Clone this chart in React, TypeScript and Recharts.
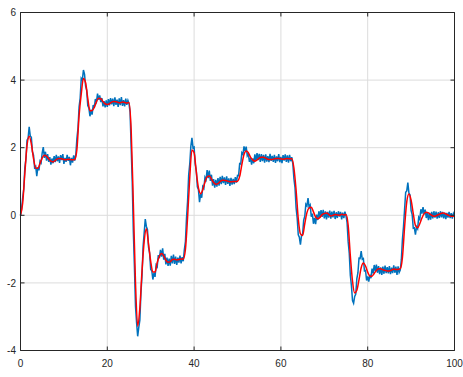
import { CartesianGrid, Line, LineChart, XAxis, YAxis } from "recharts"

const xTicks = [0, 20, 40, 60, 80, 100]
const yTicks = [-4, -2, 0, 2, 4, 6]

// noisy measurement, one sample every 0.25 (one line per unit of x)
const measuredStep = 0.25
const measured = [
  -0.02, 0.2, 0.52, 0.78,
  1.41, 1.66, 2.22, 2.28,
  2.62, 2.35, 2.31, 1.88,
  1.78, 1.41, 1.45, 1.16,
  1.42, 1.33, 1.6, 1.55,
  1.85, 2.02, 1.7, 1.88,
  1.62, 1.81, 1.58, 1.72,
  1.5, 1.68, 1.54, 1.75,
  1.57, 1.79, 1.6, 1.74,
  1.55, 1.78, 1.63, 1.81,
  1.52, 1.7, 1.58, 1.79,
  1.61, 1.73, 1.48, 1.7,
  1.56, 1.77, 1.62, 1.8,
  2.28, 2.58, 3.21, 3.47,
  4.05, 4.0, 4.3, 4.18,
  3.82, 3.7, 3.25, 3.18,
  2.93, 3.08, 2.98, 3.26,
  3.18, 3.44, 3.36, 3.6,
  3.42, 3.55, 3.35, 3.47,
  3.22, 3.38, 3.19, 3.4,
  3.21, 3.44, 3.25, 3.47,
  3.28, 3.45, 3.23, 3.49,
  3.27, 3.42, 3.21, 3.46,
  3.26, 3.5, 3.24, 3.41,
  3.22, 3.45, 3.27, 3.4,
  3.3, 3.05, 2.02, 0.98,
  -0.48, -1.52, -2.7, -3.18,
  -3.58, -3.32, -3.1, -2.3,
  -1.78, -0.92, -0.52, -0.11,
  -0.33, -0.42, -0.94, -1.12,
  -1.6, -1.64, -1.9, -1.7,
  -1.82, -1.47, -1.52, -1.18,
  -1.27, -1.02, -1.22, -0.98,
  -1.31, -1.14, -1.45, -1.25,
  -1.5, -1.28, -1.49, -1.2,
  -1.42, -1.16, -1.44, -1.22,
  -1.47, -1.25, -1.4, -1.19,
  -1.42, -1.24, -1.36, -1.02,
  -0.78, -0.08, 0.42, 1.19,
  1.52, 2.04, 2.29, 2.0,
  2.02, 1.52, 1.33, 0.84,
  0.76, 0.39, 0.63, 0.52,
  0.85, 0.8, 1.12, 1.05,
  1.34, 1.1, 1.32, 1.02,
  1.2, 0.88, 1.07, 0.82,
  1.05, 0.85, 1.1, 0.88,
  1.14, 0.92, 1.17, 0.95,
  1.12, 0.9, 1.15, 0.93,
  1.09, 0.87, 1.11, 0.91,
  1.08, 0.92, 1.13, 0.97,
  1.18, 1.17, 1.53, 1.52,
  1.85, 1.8, 2.04, 1.9,
  2.03, 1.76, 1.82, 1.58,
  1.7, 1.5, 1.68, 1.54,
  1.8, 1.62, 1.84, 1.63,
  1.82, 1.58, 1.81, 1.6,
  1.79, 1.56, 1.8, 1.59,
  1.75, 1.57, 1.82, 1.61,
  1.76, 1.58, 1.79, 1.55,
  1.74, 1.6, 1.81, 1.57,
  1.73, 1.54, 1.78, 1.62,
  1.8, 1.58, 1.77, 1.56,
  1.79, 1.6, 1.72, 1.52,
  1.08, 0.82, 0.22, -0.08,
  -0.58, -0.65, -0.87, -0.6,
  -0.56, -0.14, -0.03, 0.33,
  0.28, 0.51, 0.24, 0.3,
  -0.04, 0.05, -0.25, -0.08,
  -0.26, 0.02, -0.14, 0.12,
  -0.06, 0.15, -0.05, 0.16,
  -0.09, 0.12, -0.12, 0.1,
  -0.07, 0.14, -0.1, 0.11,
  -0.06, 0.13, -0.11, 0.09,
  -0.08, 0.12, -0.04, 0.1,
  -0.12, 0.08, -0.08, 0.11,
  -0.02, -0.22, -0.78, -1.12,
  -1.78, -2.08, -2.52, -2.6,
  -2.4, -2.33, -1.87, -1.7,
  -1.27, -1.28, -1.06, -1.3,
  -1.28, -1.64, -1.63, -1.93,
  -1.81, -1.96, -1.76, -1.86,
  -1.58, -1.72, -1.47, -1.65,
  -1.46, -1.7, -1.5, -1.74,
  -1.54, -1.76, -1.52, -1.73,
  -1.49, -1.71, -1.53, -1.72,
  -1.5, -1.74, -1.55, -1.71,
  -1.48, -1.7, -1.52, -1.76,
  -1.51, -1.69, -1.62, -1.32,
  -0.72, -0.33, 0.18, 0.68,
  0.72, 0.97, 0.66, 0.6,
  0.14, 0.02, -0.38, -0.37,
  -0.57, -0.34, -0.4, -0.06,
  -0.12, 0.18, 0.05, 0.24,
  0.03, 0.17, -0.08, 0.08,
  -0.14, 0.07, -0.13, 0.1,
  -0.09, 0.12, -0.07, 0.11,
  -0.1, 0.09, -0.08, 0.12,
  -0.06, 0.1, -0.09, 0.08,
  -0.11, 0.07, -0.07, 0.1,
  -0.08, 0.06, -0.1, 0.05,
  -0.03,
]

// smoothed estimate, one sample every 0.5
const filteredStep = 0.5
const filtered = [
  0.0, 0.36, 1.24, 2.06, 2.34, 2.11, 1.68, 1.4, 1.39, 1.53,
  1.7, 1.78, 1.75, 1.67, 1.6, 1.58, 1.62, 1.67, 1.68, 1.67,
  1.65, 1.64, 1.66, 1.65, 1.64, 1.65, 1.95, 2.95, 3.59, 4.05,
  3.92, 3.46, 3.09, 3.1, 3.19, 3.36, 3.46, 3.45, 3.37, 3.3,
  3.28, 3.3, 3.35, 3.37, 3.36, 3.34, 3.33, 3.35, 3.34, 3.32,
  3.34, 2.52, 0.35, -2.01, -3.28, -2.74, -1.64, -0.77, -0.4, -0.85,
  -1.36, -1.68, -1.68, -1.4, -1.21, -1.13, -1.2, -1.33, -1.39, -1.37,
  -1.31, -1.3, -1.32, -1.31, -1.29, -1.3, -1.01, -0.06, 1.12, 1.93,
  1.85, 1.29, 0.81, 0.64, 0.76, 0.98, 1.14, 1.16, 1.07, 0.97,
  0.92, 0.94, 1.0, 1.04, 1.03, 1.02, 1.0, 0.99, 1.0, 1.0,
  1.01, 1.15, 1.5, 1.8, 1.9, 1.85, 1.72, 1.64, 1.6, 1.64,
  1.69, 1.72, 1.72, 1.69, 1.66, 1.65, 1.65, 1.67, 1.68, 1.68,
  1.67, 1.66, 1.67, 1.68, 1.67, 1.67, 1.4, 0.75, -0.1, -0.55,
  -0.6, -0.25, 0.08, 0.22, 0.24, 0.1, -0.05, -0.1, -0.06, 0.02,
  0.05, 0.07, 0.03, -0.02, 0.0, 0.02, 0.01, 0.0, 0.03, 0.01,
  0.02, -0.3, -1.2, -1.95, -2.3, -2.22, -1.9, -1.55, -1.41, -1.5,
  -1.68, -1.8, -1.8, -1.72, -1.63, -1.58, -1.58, -1.61, -1.63, -1.65,
  -1.65, -1.62, -1.59, -1.6, -1.6, -1.58, -1.25, -0.35, 0.4, 0.63,
  0.45, 0.05, -0.3, -0.37, -0.25, -0.08, 0.05, 0.09, 0.07, 0.02,
  -0.02, -0.03, 0.0, 0.03, 0.06, 0.07, 0.04, 0.01, -0.02, -0.03,
  -0.02,
]

const measuredRows = measured.map((v, i) => ({ t: i * measuredStep, v }))
const filteredRows = filtered.map((v, i) => ({ t: i * filteredStep, v }))

const axisColor = "#262626"
const labelFont = "'Liberation Sans', Arial, sans-serif"

function BottomTick({ x, y, payload }: any) {
  return (
    <g>
      <line x1={x} x2={x} y1={y} y2={y - 4} stroke={axisColor} />
      <text
        x={x}
        y={y + 13}
        dy="0.36em"
        textAnchor="middle"
        fontSize={10}
        fontFamily={labelFont}
        fill={axisColor}
      >
        {payload.value}
      </text>
    </g>
  )
}

function LeftTick({ x, y, payload }: any) {
  return (
    <g>
      <line x1={x} x2={x + 4} y1={y} y2={y} stroke={axisColor} />
      <text
        x={x - 4.5}
        y={y}
        dy="0.36em"
        textAnchor="end"
        fontSize={10}
        fontFamily={labelFont}
        fill={axisColor}
      >
        {payload.value}
      </text>
    </g>
  )
}

function TopTick({ x, y }: any) {
  return <line x1={x} x2={x} y1={y} y2={y + 4} stroke={axisColor} />
}

function RightTick({ x, y }: any) {
  return <line x1={x} x2={x - 4} y1={y} y2={y} stroke={axisColor} />
}

export default function App() {
  return (
    <div style={{ position: "absolute", left: 0, top: 0, background: "#fff" }}>
      <LineChart
        width={463}
        height={377}
        margin={{ top: 11.5, right: 7.5, bottom: 0, left: 0 }}
      >
        <CartesianGrid stroke="#dcdcdc" strokeWidth={1} />
        <XAxis
          dataKey="t"
          type="number"
          domain={[0, 100]}
          ticks={xTicks}
          interval={0}
          height={26.5}
          tickSize={0}
          tickMargin={0}
          tickLine={false}
          stroke={axisColor}
          tick={<BottomTick />}
        />
        <XAxis
          xAxisId="top"
          dataKey="t"
          orientation="top"
          type="number"
          domain={[0, 100]}
          ticks={xTicks}
          interval={0}
          height={1}
          tickSize={0}
          tickMargin={0}
          tickLine={false}
          stroke={axisColor}
          tick={<TopTick />}
        />
        <YAxis
          type="number"
          domain={[-4, 6]}
          ticks={yTicks}
          interval={0}
          width={20.5}
          tickSize={0}
          tickMargin={0}
          tickLine={false}
          stroke={axisColor}
          tick={<LeftTick />}
        />
        <YAxis
          yAxisId="right"
          orientation="right"
          type="number"
          domain={[-4, 6]}
          ticks={yTicks}
          interval={0}
          width={1}
          tickSize={0}
          tickMargin={0}
          tickLine={false}
          stroke={axisColor}
          tick={<RightTick />}
        />
        <Line
          data={measuredRows}
          dataKey="v"
          type="linear"
          stroke="#0072bd"
          strokeWidth={1.5}
          dot={false}
          activeDot={false}
          isAnimationActive={false}
        />
        <Line
          data={filteredRows}
          dataKey="v"
          type="monotone"
          stroke="#ff0000"
          strokeWidth={1.5}
          dot={false}
          activeDot={false}
          isAnimationActive={false}
        />
        {/* invisible twins so the top and right axes get registered with a series */}
        <Line
          data={filteredRows}
          dataKey="v"
          xAxisId="top"
          yAxisId="right"
          stroke="none"
          dot={false}
          activeDot={false}
          isAnimationActive={false}
        />
      </LineChart>
    </div>
  )
}
